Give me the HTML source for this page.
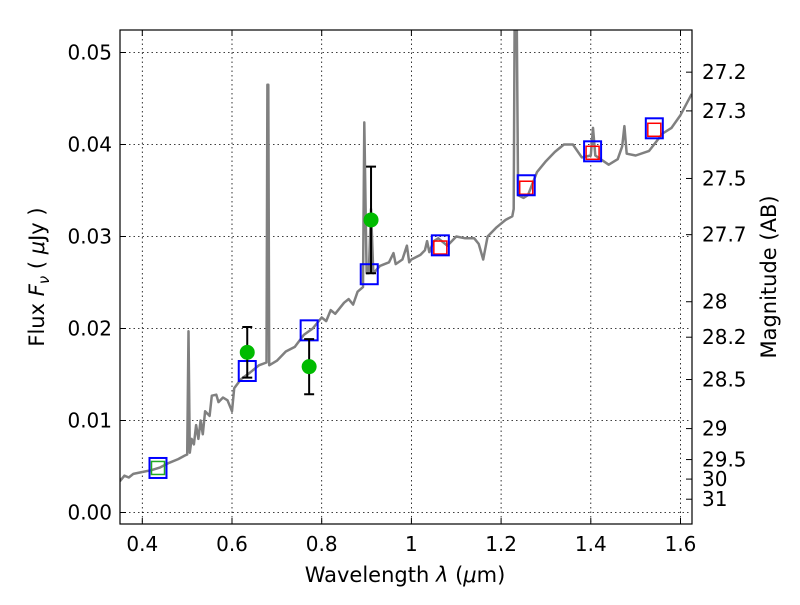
<!DOCTYPE html>
<html><head><meta charset="utf-8"><style>
body{margin:0;background:#fff;width:800px;height:600px;overflow:hidden}
svg{font-family:"DejaVu Sans","Liberation Sans",sans-serif}
</style></head><body>
<svg id="chart" width="800" height="600">
<defs><clipPath id="pc"><rect x="120" y="30" width="572" height="494"/></clipPath></defs>
<g id="grid"></g>
<g id="spec"></g>
<g id="marks"></g>
<rect x="120" y="30" width="572" height="494" fill="none" stroke="#000" stroke-width="1.2"/>
<g id="axes"></g>
<text x="405" y="582" font-size="21" text-anchor="middle">Wavelength  <tspan font-style="italic">λ</tspan> (<tspan font-style="italic">μ</tspan>m)</text>
<text transform="translate(44,277) rotate(-90)" font-size="21" text-anchor="middle">Flux  <tspan font-style="italic">F</tspan><tspan font-style="italic" font-size="15" dy="5">ν</tspan><tspan dy="-5">  ( </tspan><tspan font-style="italic">μ</tspan>Jy )</text>
<text transform="translate(776,277) rotate(-90)" font-size="21" text-anchor="middle">Magnitude (AB)</text>
</svg>
<script>
const specWave=[0.35,0.36,0.37,0.38,0.40,0.42,0.44,0.46,0.48,0.495,0.500,0.503,0.506,0.51,0.515,0.52,0.525,0.53,0.535,0.54,0.55,0.555,0.565,0.57,0.58,0.59,0.60,0.605,0.62,0.64,0.66,0.677,0.679,0.681,0.683,0.70,0.72,0.74,0.76,0.78,0.80,0.81,0.82,0.83,0.84,0.85,0.86,0.87,0.88,0.892,0.895,0.90,0.905,0.91,0.915,0.93,0.95,0.96,0.965,0.98,0.99,0.995,1.00,1.02,1.03,1.035,1.04,1.05,1.06,1.08,1.10,1.12,1.14,1.15,1.16,1.17,1.19,1.21,1.225,1.228,1.23,1.235,1.238,1.25,1.26,1.28,1.30,1.32,1.34,1.36,1.38,1.40,1.405,1.41,1.44,1.46,1.47,1.475,1.48,1.50,1.53,1.56,1.58,1.60,1.625];
const specFlux=[0.0034,0.0040,0.0038,0.0042,0.0044,0.0046,0.0049,0.0054,0.0058,0.0062,0.0063,0.0197,0.0065,0.0080,0.0074,0.0095,0.0080,0.0100,0.0085,0.0110,0.0105,0.0127,0.0128,0.0120,0.0125,0.0122,0.0110,0.0135,0.0145,0.0152,0.0160,0.0163,0.0465,0.0465,0.0160,0.0165,0.0175,0.0180,0.0193,0.0200,0.0212,0.0208,0.0220,0.0216,0.0222,0.0228,0.0232,0.0226,0.0240,0.0245,0.0424,0.0260,0.0260,0.0330,0.0260,0.0268,0.0272,0.0282,0.0270,0.0275,0.0290,0.0272,0.0275,0.0280,0.0285,0.0295,0.0283,0.0295,0.0298,0.0290,0.0300,0.0298,0.0298,0.0292,0.0275,0.0300,0.0310,0.0318,0.0322,0.0330,0.0530,0.0530,0.0345,0.0342,0.0345,0.0370,0.0382,0.0392,0.0400,0.0400,0.0386,0.0388,0.0418,0.0388,0.0378,0.0384,0.0398,0.0420,0.0390,0.0388,0.0393,0.0412,0.0418,0.0432,0.0455];
const bandWave=[0.435,0.634,0.772,0.906,1.0645,1.256,1.404,1.5416];
const bandFlux=[0.00484,0.01538,0.0198,0.0259,0.02904,0.03557,0.03926,0.04176];
const innerWave=[0.435,1.0645,1.256,1.404,1.5416];
const innerFlux=[0.00484,0.02880,0.03530,0.03910,0.04160];
const innerColor=['#2a2','red','red','red','red'];
const obsWave=[0.634,0.772,0.91];
const obsFlux=[0.01741,0.01585,0.0318];
const obsErr=[0.00275,0.003,0.0058];
const xTicks=[0.4,0.6,0.8,1.0,1.2,1.4,1.6];
const xTickLabels=['0.4','0.6','0.8','1','1.2','1.4','1.6'];
const yTicks=[0,0.01,0.02,0.03,0.04,0.05];
const yTickLabels=['0.00','0.01','0.02','0.03','0.04','0.05'];
const magTicks=[27.2,27.3,27.5,27.7,28,28.2,28.5,29,29.5,30,31];
const magTickLabels=['27.2','27.3','27.5','27.7','28','28.2','28.5','29','29.5','30','31'];

const NS='http://www.w3.org/2000/svg';
const X0=120,X1=692,Y0=30,Y1=524;
const xs=w=>142.3+(w-0.4)*448.5;
const ys=f=>512.5-f*9200;
const magToFlux=m=>Math.pow(10,(23.9-m)/2.5);
function mk(tag,attrs,parent){const e=document.createElementNS(NS,tag);for(const k in attrs)e.setAttribute(k,attrs[k]);document.getElementById(parent).appendChild(e);return e;}

xTicks.forEach((t,i)=>{
  const x=xs(t);
  let g=mk('line',{x1:x,x2:x,y1:Y0,y2:Y1,stroke:'#000','stroke-width':0.8,'stroke-dasharray':'1.5,3'},'grid');
  
  
  let a=mk('line',{x1:x,x2:x,y1:Y1,y2:Y1-6,stroke:'#000'},'axes');
  
  
  let b=mk('line',{x1:x,x2:x,y1:Y0,y2:Y0+6,stroke:'#000'},'axes');
  
  
  let l=mk('text',{x:x,y:Y1+27,'font-size':20,'text-anchor':'middle'},'axes');
  l.textContent=xTickLabels[i];
  
  
});
yTicks.forEach((t,i)=>{
  const y=ys(t);
  let g=mk('line',{x1:X0,x2:X1,y1:y,y2:y,stroke:'#000','stroke-width':0.8,'stroke-dasharray':'1.5,3'},'grid');
  
  
  let a=mk('line',{x1:X0,x2:X0+6,y1:y,y2:y,stroke:'#000'},'axes');
  
  
  let l=mk('text',{x:X0-8,y:y+7,'font-size':20,'text-anchor':'end'},'axes');
  l.textContent=yTickLabels[i];
  
  
});
magTicks.forEach((m,i)=>{
  const y=ys(magToFlux(m));
  let a=mk('line',{x1:X1,x2:X1-6,y1:y,y2:y,stroke:'#000'},'axes');
  
  
  let l=mk('text',{x:X1+10,y:y+7,'font-size':20,'text-anchor':'start'},'axes');
  l.textContent=magTickLabels[i];
  
  
});
let d=specWave.map((w,i)=>(i?'L':'M')+xs(w).toFixed(1)+','+ys(specFlux[i]).toFixed(1)).join(' ');
let p=mk('path',{d:d,fill:'none',stroke:'#808080','stroke-width':2.5,'stroke-linejoin':'round','clip-path':'url(#pc)'},'spec');


innerWave.forEach((w,i)=>{
  let r=mk('rect',{x:xs(w)-6.5,y:ys(innerFlux[i])-6.5,width:13,height:13,fill:'none',stroke:innerColor[i],'stroke-width':1.5},'marks');
  
  
});
bandWave.forEach((w,i)=>{
  let r=mk('rect',{x:xs(w)-8.5,y:ys(bandFlux[i])-10,width:17,height:20,fill:'none',stroke:'#0000ff','stroke-width':2},'marks');
  
  
});
obsWave.forEach((w,i)=>{
  const x=xs(w),yt=ys(obsFlux[i]+obsErr[i]),yb=ys(obsFlux[i]-obsErr[i]);
  let e=mk('path',{d:`M${x},${yt}L${x},${yb}M${x-5},${yt}L${x+5},${yt}M${x-5},${yb}L${x+5},${yb}`,stroke:'#000','stroke-width':2,fill:'none'},'marks');
  
  
  let c=mk('circle',{cx:x,cy:ys(obsFlux[i]),r:7.5,fill:'#00bb00'},'marks');
  
  
});
</script>
</body></html>
